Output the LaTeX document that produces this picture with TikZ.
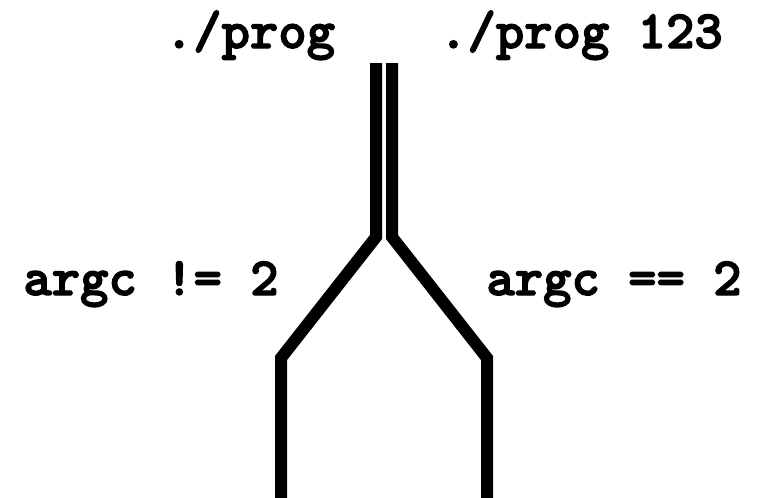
\documentclass[tikz,border=0pt]{standalone}
\usepackage{fontspec}
\newfontfamily\codefont{lmmonolt10-bold}[Extension=.otf,FakeBold=2.5]

\begin{document}
\begin{tikzpicture}[x=1pt,y=-1pt,
    wire/.style={line width=12pt},
    cmd/.style={font=\codefont\fontsize{54}{54}\selectfont,inner sep=0pt,anchor=base}]
        \useasboundingbox (0,0) rectangle (761,498);
        % labels
        \node[cmd] (progA) at (250,48) {./prog};
        \node[cmd] (progB) at (581,48) {./prog 123};
        \node[cmd] (neq) at (151,295) {argc != 2};
        \node[cmd] (eq) at (614,295) {argc == 2};
        % left branch
        \coordinate (lTop) at (376,63);
        \coordinate (lFork) at (376,237);
        \coordinate (lBend) at (281,358);
        \coordinate (lEnd) at (281,498);
        % right branch
        \coordinate (rTop) at (392,63);
        \coordinate (rFork) at (392,237);
        \coordinate (rBend) at (487,358);
        \coordinate (rEnd) at (487,498);
        \draw[wire] (lTop) -- (lFork) -- (lBend) -- (lEnd);
        \draw[wire] (rTop) -- (rFork) -- (rBend) -- (rEnd);
      \end{tikzpicture}
\end{document}
